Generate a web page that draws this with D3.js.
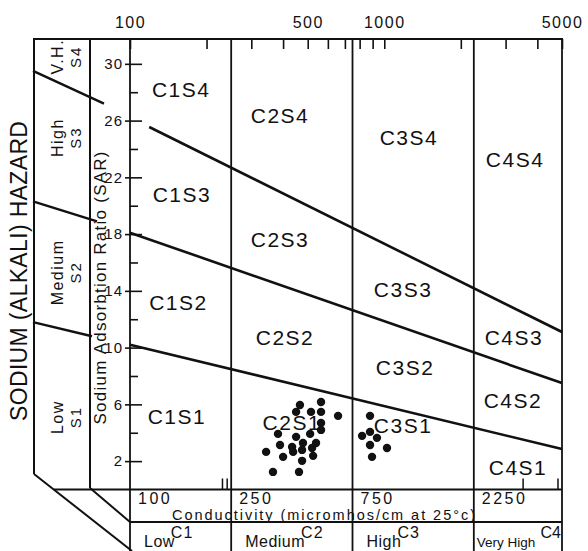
<!DOCTYPE html>
<html><head><meta charset="utf-8">
<script src="https://cdn.jsdelivr.net/npm/d3@7/dist/d3.min.js"></script>
<style>
html,body{margin:0;padding:0;background:#fff;}
svg{display:block;font-family:"Liberation Sans",Arial,sans-serif;}
</style></head><body>
<svg id="chart" width="588" height="551"></svg>
<script>
// ---------- data ----------
const ecBoundaries = [100, 250, 750, 2250, 5000];
const topTickValues = [100, 200, 300, 400, 500, 600, 700, 800, 900, 1000, 2000, 3000, 4000, 5000];
const topLabelValues = [100, 500, 1000, 5000];
const sarMajorTicks = [2, 6, 10, 14, 18, 22, 26, 30];
const sarMinorTicks = [4, 8, 12, 16, 20, 24, 28];
const bottomLabelValues = [100, 250, 750, 2250];
const bottomTickValues = [230, 240, 3500, 4800];
const classNames = ["Low", "Medium", "High", "Very High"];
const classCodes = ["C1", "C2", "C3", "C4"];
const hazardNames = ["Low", "Medium", "High", "V.H."];
const hazardCodes = ["S1", "S2", "S3", "S4"];
const hazardLabelSAR = [5.1, 15.3, 24.8, 30.5];
// boundary lines between sodium hazard classes: [EC, SAR] end points
const lineS1S2 = [[100, 10.2], [5000, 2.85]];
const lineS2S3 = [[100, 18.1], [5000, 7.5]];
const lineS3S4 = [[119, 25.55], [5000, 11.1]];
// the same boundaries in the left hazard scale: SAR at outer edge, SAR at inner end
const leftBoundOuter = [11.8, 20.3, 29.5];
const leftBoundInner = [10.8, 18.9, 27.2];
// zone labels
const zoneNames = ["C1S4","C2S4","C3S4","C4S4","C1S3","C2S3","C3S3","C4S3",
                   "C1S2","C2S2","C3S2","C4S2","C1S1","C2S1","C3S1","C4S1"];
const zoneEC  = [159, 389, 1250, 3270, 160, 389, 1186, 3236, 155, 407, 1207, 3207, 153, 433, 1186, 3357];
const zoneSAR = [27.66, 25.84, 24.29, 22.74, 20.27, 17.1, 13.57, 10.19, 12.66, 10.19, 8.08, 5.75, 4.62, 4.19, 3.98, 1.03];
// water samples
const sampleEC  = [466, 564, 450, 515, 564, 658, 564, 564, 511, 382, 450, 389, 479, 539, 434, 343, 400, 438, 475, 520, 525, 475, 365, 462,
                   879, 879, 818, 936, 879, 1025, 895];
const sampleSAR = [5.96, 6.17, 5.47, 5.47, 5.47, 5.19, 4.69, 4.2, 3.92, 3.92, 3.71, 3.14, 3.28, 3.28, 3.0, 2.65, 2.3, 2.65, 2.79, 2.93, 2.37, 2.02, 1.24, 1.24,
                   5.19, 4.06, 3.78, 3.64, 3.14, 2.93, 2.3];

// ---------- layout ----------
const L = 130, R = 562, T = 39, B = 489.5;
const outerX = 34, innerX = 90, outerBottom = 474, innerBottom = 488;
const strip1 = 522, H = 551;
const svg = d3.select("#chart");
const x = d3.scaleLog().domain([100, 5000]).range([L, R]);
const y = d3.scaleLinear().domain([0, 31.75]).range([B, T]);
const ink = "#111";

const frame = svg.append("g").attr("stroke", ink).attr("stroke-width", 2).attr("fill", "none");
const seg = (x1, y1, x2, y2, w) => frame.append("line").attr("x1", x1).attr("y1", y1).attr("x2", x2).attr("y2", y2).attr("stroke-width", w || 2);
// top border
seg(outerX - 1, T, R + 1, T);
// left scale columns
seg(outerX, T, outerX, outerBottom);
seg(outerX, outerBottom, L + 2, H);
seg(innerX, T, innerX, innerBottom);
seg(innerX, innerBottom, L, strip1);
// strips at the bottom
const diagAt = yy => outerX + (yy - outerBottom) * (L + 2 - outerX) / (H - outerBottom);
seg(diagAt(B), B, R, B);
seg(L, strip1, R, strip1);
// class boundaries (vertical lines)
ecBoundaries.forEach(v => seg(x(v), T, x(v), H, 1.8));

// top axis ticks (pointing down into the plot)
svg.append("g").attr("transform", `translate(0,${T})`)
  .call(d3.axisBottom(x).tickValues(topTickValues).tickSize(10).tickFormat(""))
  .call(g => g.select(".domain").remove())
  .call(g => g.selectAll("line").attr("stroke", ink).attr("stroke-width", 1.6));
svg.append("g").attr("transform", `translate(0,${T})`)
  .call(d3.axisTop(x).tickValues(topLabelValues).tickSize(0).tickPadding(11).tickFormat(d3.format("d")))
  .call(g => g.select(".domain").remove())
  .call(g => g.selectAll("text").attr("font-size", 16).attr("fill", ink).attr("letter-spacing", 1.5)
      .attr("font-family", "Liberation Sans, Arial, sans-serif"));

// SAR axis
svg.append("g").attr("transform", `translate(${L - 5},0)`)
  .call(d3.axisRight(y).tickValues(sarMajorTicks).tickSize(17).tickFormat(""))
  .call(g => g.select(".domain").remove())
  .call(g => g.selectAll("line").attr("stroke", ink).attr("stroke-width", 1.6));
svg.append("g").attr("transform", `translate(${L},0)`)
  .call(d3.axisRight(y).tickValues(sarMinorTicks).tickSize(8).tickFormat(""))
  .call(g => g.select(".domain").remove())
  .call(g => g.selectAll("line").attr("stroke", ink).attr("stroke-width", 1.6));
svg.append("g").attr("transform", `translate(${L},0)`)
  .call(d3.axisLeft(y).tickValues(sarMajorTicks).tickSize(0).tickPadding(7).tickFormat(d3.format("d")))
  .call(g => g.select(".domain").remove())
  .call(g => g.selectAll("text").attr("font-size", 15).attr("fill", ink).attr("letter-spacing", 1)
      .attr("font-family", "Liberation Sans, Arial, sans-serif"));

// bottom small ticks
svg.append("g").attr("transform", `translate(0,${B})`)
  .call(d3.axisTop(x).tickValues(bottomTickValues).tickSize(11).tickFormat(""))
  .call(g => g.select(".domain").remove())
  .call(g => g.selectAll("line").attr("stroke", ink).attr("stroke-width", 1.5));

// sodium hazard boundary lines
const line = d3.line().x(d => x(d[0])).y(d => y(d[1]));
svg.append("g").selectAll("path").data([lineS1S2, lineS2S3, lineS3S4]).join("path")
  .attr("d", line).attr("fill", "none").attr("stroke", ink).attr("stroke-width", 2.6);
// boundaries in the left hazard scale
const innerExt = [2, 7, 14];
svg.append("g").selectAll("line").data(leftBoundOuter).join("line")
  .attr("x1", outerX - 1).attr("y1", d => y(d))
  .attr("x2", (d, i) => innerX + innerExt[i]).attr("y2", (d, i) => y(leftBoundInner[i]))
  .attr("stroke", ink).attr("stroke-width", 2.4);

// zone labels
svg.append("g").selectAll("text").data(zoneNames).join("text")
  .attr("x", (d, i) => x(zoneEC[i])).attr("y", (d, i) => y(zoneSAR[i]))
  .attr("text-anchor", "middle").attr("font-size", 21).attr("letter-spacing", 1.5)
  .attr("fill", ink).text(d => d);

// left hazard scale labels
const hz = svg.append("g").attr("fill", ink);
hazardNames.forEach((n, i) => {
  hz.append("text").attr("transform", `translate(63,${y(hazardLabelSAR[i])}) rotate(-90)`)
    .attr("text-anchor", "middle").attr("font-size", 16).attr("letter-spacing", 1.5).text(n);
  hz.append("text").attr("transform", `translate(81,${y(hazardLabelSAR[i])}) rotate(-90)`)
    .attr("text-anchor", "middle").attr("font-size", 15).attr("letter-spacing", 2).text(hazardCodes[i]);
});
svg.append("text").attr("transform", "translate(27,271) rotate(-90)")
  .attr("text-anchor", "middle").attr("font-size", 23).attr("fill", ink)
  .attr("textLength", 300).attr("lengthAdjust", "spacing").text("SODIUM (ALKALI) HAZARD");
svg.append("text").attr("transform", "translate(106,288) rotate(-90)")
  .attr("text-anchor", "middle").attr("font-size", 17).attr("fill", ink)
  .attr("textLength", 273).attr("lengthAdjust", "spacing").text("Sodium Adsorbtion Ratio (SAR)");

// conductivity strip
svg.append("g").selectAll("text").data(bottomLabelValues).join("text")
  .attr("x", d => x(d) + 8).attr("y", 503.5).attr("font-size", 16).attr("letter-spacing", 2.5)
  .attr("fill", ink).text(d => d);
svg.append("text").attr("x", 172).attr("y", 520).attr("font-size", 14.5).attr("fill", ink)
  .attr("textLength", 303).attr("lengthAdjust", "spacing").text("Conductivity (micromhos/cm at 25°c)");

// salinity class strip
const cls = svg.append("g").attr("fill", ink);
classNames.forEach((n, i) => {
  const lo = x(ecBoundaries[i]), hi = x(ecBoundaries[i + 1]);
  const last = i === classNames.length - 1;
  const c = cls.append("text").attr("y", 538).attr("font-size", 16).attr("letter-spacing", last ? 0 : 1).text(classCodes[i]);
  const cw = c.node().getComputedTextLength();
  const t = cls.append("text").attr("y", 547).attr("font-size", last ? 13.5 : 16).attr("letter-spacing", last ? 0 : 0.5).text(n);
  const w = t.node().getComputedTextLength();
  const sx = last ? lo + 3 : lo + 14;
  t.attr("x", sx);
  c.attr("x", last ? hi - cw - 1 : sx + w - 4);
});

// samples
svg.append("g").selectAll("circle").data(sampleEC).join("circle")
  .attr("cx", d => x(d)).attr("cy", (d, i) => y(sampleSAR[i])).attr("r", 4.2).attr("fill", ink);
</script>
</body></html>
